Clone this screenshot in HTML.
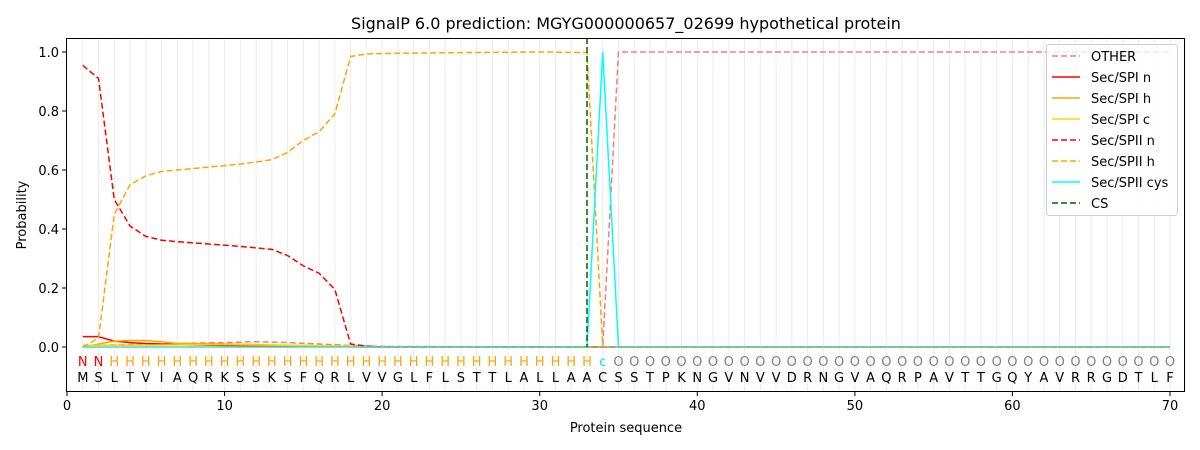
<!DOCTYPE html>
<html><head><meta charset="utf-8"><style>body{margin:0;background:#fff}svg{display:block;font-family:"DejaVu Sans","Liberation Sans",sans-serif}</style></head><body>
<svg width="1200" height="450" viewBox="0 0 1200 450" xmlns="http://www.w3.org/2000/svg">
<rect width="1200" height="450" fill="#fff"/>
<text x="626" y="29" font-size="16" text-anchor="middle">SignalP 6.0 prediction: MGYG000000657_02699 hypothetical protein</text>
<g stroke="#ebebeb" stroke-width="1" transform="translate(67,0) scale(15.757,1)">
<path vector-effect="non-scaling-stroke" d="M1 38V392M2 38V392M3 38V392M4 38V392M5 38V392M6 38V392M7 38V392M8 38V392M9 38V392M10 38V392M11 38V392M12 38V392M13 38V392M14 38V392M15 38V392M16 38V392M17 38V392M18 38V392M19 38V392M20 38V392M21 38V392M22 38V392M23 38V392M24 38V392M25 38V392M26 38V392M27 38V392M28 38V392M29 38V392M30 38V392M31 38V392M32 38V392M33 38V392M34 38V392M35 38V392M36 38V392M37 38V392M38 38V392M39 38V392M40 38V392M41 38V392M42 38V392M43 38V392M44 38V392M45 38V392M46 38V392M47 38V392M48 38V392M49 38V392M50 38V392M51 38V392M52 38V392M53 38V392M54 38V392M55 38V392M56 38V392M57 38V392M58 38V392M59 38V392M60 38V392M61 38V392M62 38V392M63 38V392M64 38V392M65 38V392M66 38V392M67 38V392M68 38V392M69 38V392M70 38V392"/>
</g>
<g fill="none" stroke-width="1.5" transform="translate(67,347) scale(15.757,-295)">
<polyline vector-effect="non-scaling-stroke" stroke="#f08080" stroke-dasharray="6,3" points="1,0.005 4,0.008 7,0.012 10,0.015 12,0.018 14,0.015 16,0.01 18,0.005 20,0.002 33,0 34,0 35,1 70,1"/>
<polyline vector-effect="non-scaling-stroke" stroke="#ff0000" points="1,0.035 2,0.035 3,0.02 4,0.015 5,0.012 7,0.008 10,0.005 14,0.002 20,0 70,0"/>
<polyline vector-effect="non-scaling-stroke" stroke="#ffa500" points="1,0 2,0.01 3,0.02 4,0.022 5,0.022 6,0.018 7,0.012 10,0.01 15,0.005 20,0 70,0"/>
<polyline vector-effect="non-scaling-stroke" stroke="#ffd700" points="1,0.005 10,0.008 17,0.004 20,0 70,0"/>
<polyline vector-effect="non-scaling-stroke" stroke="#ff0000" stroke-dasharray="6,3" points="1,0.955 2,0.91 3,0.5 4,0.41 5,0.375 6,0.362 7,0.357 8,0.353 9,0.349 10,0.345 11,0.341 12,0.336 13,0.331 14,0.31 15,0.275 16,0.25 17,0.195 18,0.01 19,0.003 20,0 70,0"/>
<polyline vector-effect="non-scaling-stroke" stroke="#ffa500" stroke-dasharray="6,3" points="1,0 2,0.03 3,0.45 4,0.55 5,0.58 6,0.595 7,0.6 8,0.605 9,0.61 10,0.615 11,0.62 12,0.627 13,0.635 14,0.66 15,0.7 16,0.73 17,0.79 18,0.985 19,0.993 20,0.995 25,0.998 30,1 33,0.998 34,0 70,0"/>
<polyline vector-effect="non-scaling-stroke" stroke="#00ffff" points="1,0 33,0 34,1 35,0 70,0"/>
<polyline vector-effect="non-scaling-stroke" stroke="#66cdaa" stroke-width="1" points="1,0 70,0"/>
</g>
<line x1="587" y1="38" x2="587" y2="347" stroke="#006400" stroke-width="1.5" stroke-dasharray="6,3"/>
<rect x="66.5" y="38.5" width="1118" height="353" fill="none" stroke="#000" stroke-width="1"/>
<g stroke="#000"><path d="M67 392v4M224.6 392v4M382.1 392v4M539.7 392v4M697.3 392v4M854.9 392v4M1012.4 392v4M1170 392v4M66 347h-4M66 288h-4M66 229h-4M66 170h-4M66 111h-4M66 52h-4"/></g>
<g font-size="13" text-anchor="middle"><text x="67" y="410">0</text><text x="224.6" y="410">10</text><text x="382.1" y="410">20</text><text x="539.7" y="410">30</text><text x="697.3" y="410">40</text><text x="854.9" y="410">50</text><text x="1012.4" y="410">60</text><text x="1170" y="410">70</text></g>
<g font-size="13" text-anchor="end"><text x="59" y="352">0.0</text><text x="59" y="293">0.2</text><text x="59" y="234">0.4</text><text x="59" y="175">0.6</text><text x="59" y="116">0.8</text><text x="59" y="57">1.0</text></g>
<text x="626" y="432" font-size="13" text-anchor="middle">Protein sequence</text>
<text transform="translate(26,215) rotate(-90)" font-size="13" text-anchor="middle">Probability</text>
<g font-size="13" text-anchor="middle">
<text y="366" fill="#ff0000" x="82.8 98.5">NN</text>
<text y="366" fill="#ffa500" x="114.3 130.0 145.8 161.5 177.3 193.1 208.8 224.6 240.3 256.1 271.8 287.6 303.4 319.1 334.9 350.6 366.4 382.1 397.9 413.7 429.4 445.2 460.9 476.7 492.4 508.2 524.0 539.7 555.5 571.2 587.0">HHHHHHHHHHHHHHHHHHHHHHHHHHHHHHH</text>
<text y="366" fill="#00e5ee" x="602.7">c</text>
<text y="366" fill="#808080" x="618.5 634.3 650.0 665.8 681.5 697.3 713.0 728.8 744.6 760.3 776.1 791.8 807.6 823.4 839.1 854.9 870.6 886.4 902.1 917.9 933.7 949.4 965.2 980.9 996.7 1012.4 1028.2 1044.0 1059.7 1075.5 1091.2 1107.0 1122.7 1138.5 1154.3 1170.0">OOOOOOOOOOOOOOOOOOOOOOOOOOOOOOOOOOOO</text>
<text y="382" fill="#000" x="82.8 98.5 114.3 130.0 145.8 161.5 177.3 193.1 208.8 224.6 240.3 256.1 271.8 287.6 303.4 319.1 334.9 350.6 366.4 382.1 397.9 413.7 429.4 445.2 460.9 476.7 492.4 508.2 524.0 539.7 555.5 571.2 587.0 602.7 618.5 634.3 650.0 665.8 681.5 697.3 713.0 728.8 744.6 760.3 776.1 791.8 807.6 823.4 839.1 854.9 870.6 886.4 902.1 917.9 933.7 949.4 965.2 980.9 996.7 1012.4 1028.2 1044.0 1059.7 1075.5 1091.2 1107.0 1122.7 1138.5 1154.3 1170.0">MSLTVIAQRKSSKSFQRLVVGLFLSTTLALLAACSSTPKNGVNVVDRNGVAQRPAVTTGQYAVRRGDTLF</text>
</g>
<g>
<rect x="1046.5" y="44.5" width="131" height="171" rx="3" fill="#fff" fill-opacity="0.8" stroke="#d0d0d0"/>
<g stroke-width="1.5">
<line x1="1052" x2="1080" y1="56" y2="56" stroke="#f08080" stroke-dasharray="6,3"/>
<line x1="1052" x2="1080" y1="77" y2="77" stroke="#ff0000"/>
<line x1="1052" x2="1080" y1="98" y2="98" stroke="#ffa500"/>
<line x1="1052" x2="1080" y1="119" y2="119" stroke="#ffd700"/>
<line x1="1052" x2="1080" y1="140" y2="140" stroke="#ff0000" stroke-dasharray="6,3"/>
<line x1="1052" x2="1080" y1="161" y2="161" stroke="#ffa500" stroke-dasharray="6,3"/>
<line x1="1052" x2="1080" y1="182" y2="182" stroke="#00ffff"/>
<line x1="1052" x2="1080" y1="203" y2="203" stroke="#006400" stroke-dasharray="6,3"/>
</g>
<g font-size="13"><text x="1091" y="61">OTHER</text><text x="1091" y="82">Sec/SPI n</text><text x="1091" y="103">Sec/SPI h</text><text x="1091" y="124">Sec/SPI c</text><text x="1091" y="145">Sec/SPII n</text><text x="1091" y="166">Sec/SPII h</text><text x="1091" y="187">Sec/SPII cys</text><text x="1091" y="208">CS</text></g>
</g>
</svg>
</body></html>
